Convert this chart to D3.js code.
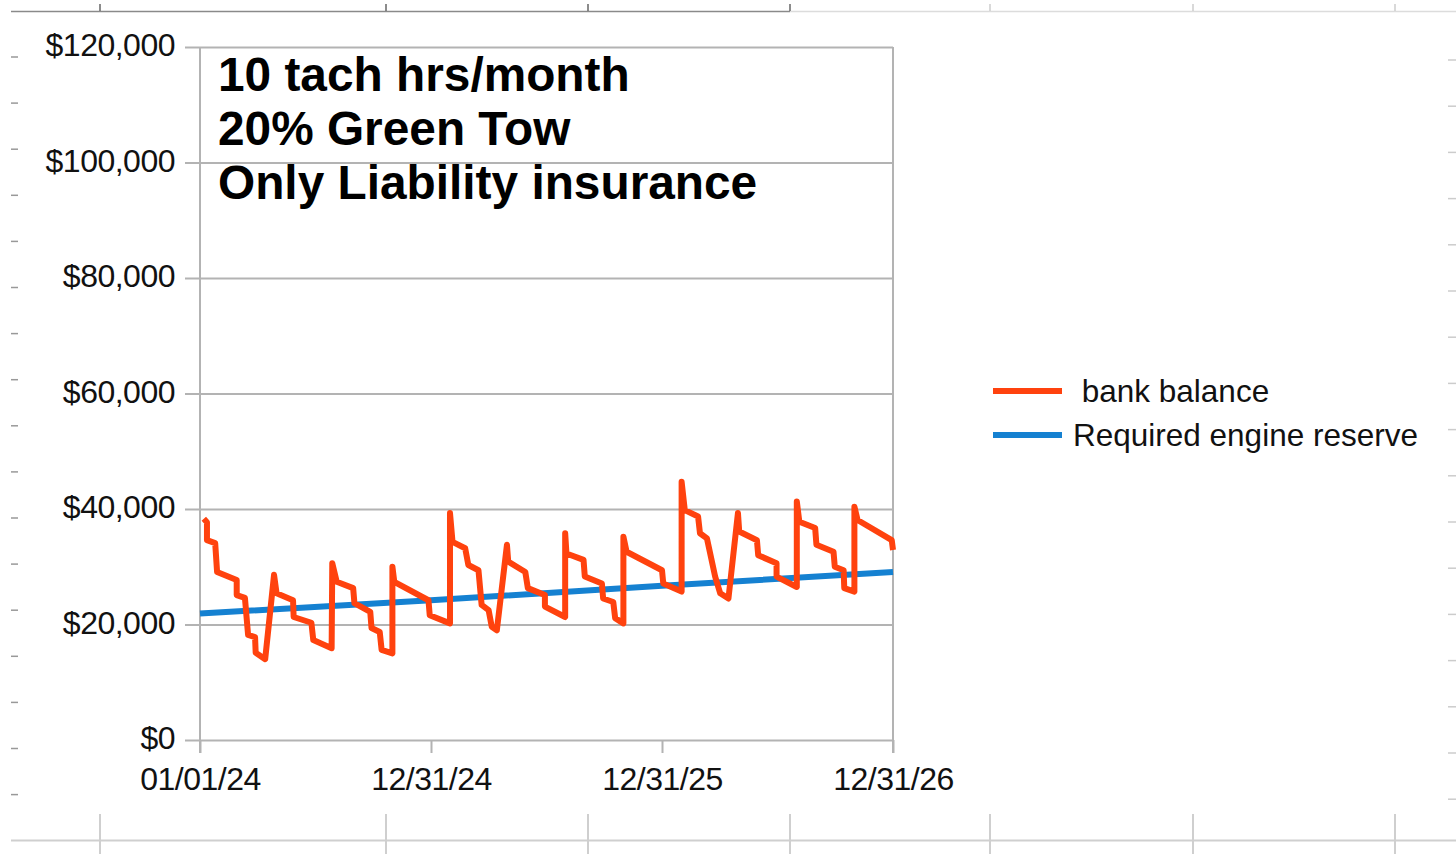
<!DOCTYPE html>
<html>
<head>
<meta charset="utf-8">
<script src="https://cdn.jsdelivr.net/npm/d3@7"></script>
<style>
  html, body { margin: 0; padding: 0; background: #fff; }
  svg { display: block; font-family: "Liberation Sans", Arial, sans-serif; }
</style>
</head>
<body>
<svg id="chart" width="1456" height="854"></svg>
<script>
// ---- data ----
const titleLines = ["10 tach hrs/month", "20% Green Tow", "Only Liability insurance"];
const seriesNames = [" bank balance", "Required engine reserve"];

const bankDates = [
  "2024-01-07","2024-01-12","2024-01-12","2024-01-25","2024-01-28","2024-02-28","2024-02-28","2024-03-12",
  "2024-03-17","2024-03-28","2024-03-29","2024-04-13","2024-04-27","2024-05-01","2024-05-27","2024-05-28",
  "2024-06-25","2024-06-28","2024-07-27","2024-07-28","2024-08-04","2024-08-30","2024-09-01","2024-09-26",
  "2024-09-28","2024-10-11","2024-10-14","2024-10-31","2024-10-31","2024-11-03","2024-12-27","2024-12-29",
  "2025-01-30","2025-01-30","2025-02-03","2025-02-23","2025-02-28","2025-03-16","2025-03-21","2025-04-01",
  "2025-04-06","2025-04-14","2025-04-30","2025-05-02","2025-05-29","2025-06-02","2025-06-29","2025-06-29",
  "2025-07-31","2025-07-31","2025-08-02","2025-08-29","2025-08-31","2025-09-27","2025-09-29","2025-10-15",
  "2025-10-18","2025-10-31","2025-10-31","2025-11-05","2025-12-31","2026-01-02","2026-01-31","2026-01-31",
  "2026-02-05","2026-02-26","2026-03-01","2026-03-12","2026-03-25","2026-04-02","2026-04-15","2026-04-30",
  "2026-05-02","2026-05-30","2026-06-01","2026-06-30","2026-06-30","2026-08-01","2026-08-01","2026-08-05",
  "2026-08-30","2026-09-01","2026-09-28","2026-09-30","2026-10-14","2026-10-15","2026-10-31","2026-10-31",
  "2026-11-05","2026-12-29","2026-12-31"
];
const bankValues = [
  38300,37700,34600,34100,29100,27700,25100,24600,
  18200,17800,15100,14000,28600,25400,24200,21300,
  20300,17300,15900,30600,27400,26300,23700,22200,
  19400,18700,15600,15000,30000,27400,24200,21600,
  20200,39300,34300,33200,30300,29400,23400,22500,
  19600,19000,33800,30900,29100,26300,25100,23100,
  21300,35800,32300,31200,28300,27100,24500,23900,
  21100,20200,35200,32600,29400,27100,25700,44700,
  39800,38700,35800,34900,28300,25400,24500,39300,
  36100,34600,32000,30600,28300,26500,41300,37800,
  36700,33800,32600,30000,29400,26300,25700,40400,
  38100,34600,32900
];

const reserveDates = ["2024-01-01","2024-12-31","2025-12-31","2026-12-31"];
const reserveValues = [21900, 24200, 26700, 29100];

const xTickDates = ["2024-01-01","2024-12-31","2025-12-31","2026-12-31"];
const yTickValues = [0, 20000, 40000, 60000, 80000, 100000, 120000];

// ---- setup ----
const parse = d3.utcParse("%Y-%m-%d");
const fmtDate = d3.utcFormat("%m/%d/%y");
const fmtMoney = v => "$" + d3.format(",")(v);

const svg = d3.select("#chart");
const W = 1456, H = 854;
const plot = { left: 200, right: 893, top: 47, bottom: 740 };

const x = d3.scaleUtc()
  .domain([parse(xTickDates[0]), parse(xTickDates[xTickDates.length - 1])])
  .range([plot.left, plot.right]);
const y = d3.scaleLinear().domain([0, 120000]).range([plot.bottom, plot.top]);

// ---- spreadsheet cell borders behind chart (decoration) ----
const deco = svg.append("g");
deco.append("line").attr("x1", 11).attr("x2", 790).attr("y1", 11.5).attr("y2", 11.5)
  .attr("stroke", "#8a8a8a").attr("stroke-width", 1.5);
deco.append("line").attr("x1", 790).attr("x2", W).attr("y1", 11.5).attr("y2", 11.5)
  .attr("stroke", "#dcdcdc").attr("stroke-width", 1.5);
deco.append("line").attr("x1", 11).attr("x2", W).attr("y1", 840.5).attr("y2", 840.5)
  .attr("stroke", "#cfcfcf").attr("stroke-width", 2);
[100, 386, 588, 790, 990, 1193, 1395].forEach((cx, i) => {
  deco.append("line").attr("x1", cx).attr("x2", cx).attr("y1", 4).attr("y2", 11)
    .attr("stroke", i < 4 ? "#666" : "#ccc").attr("stroke-width", 1.5);
  deco.append("line").attr("x1", cx).attr("x2", cx).attr("y1", 814).attr("y2", H)
    .attr("stroke", "#cfcfcf").attr("stroke-width", 2);
});
for (let k = 0; k < 17; k++) {
  const yy = 57 + 46.1 * k;
  deco.append("line").attr("x1", 11).attr("x2", 18).attr("y1", yy).attr("y2", yy)
    .attr("stroke", "#999").attr("stroke-width", 1.5);
  const yr = 60 + 46.2 * k;
  deco.append("line").attr("x1", 1448).attr("x2", W).attr("y1", yr).attr("y2", yr)
    .attr("stroke", "#ccc").attr("stroke-width", 1.5);
}

// ---- gridlines / axes ----
const gridColor = "#b3b3b3";
const yAxis = d3.axisLeft(y).tickValues(yTickValues).tickFormat(fmtMoney)
  .tickSize(plot.right - plot.left + 15).tickPadding(10);
const gy = svg.append("g").attr("transform", `translate(${plot.right},0)`).call(yAxis);
gy.select(".domain").remove();
gy.selectAll(".tick line").attr("stroke", gridColor).attr("stroke-width", 2);
gy.selectAll(".tick text").attr("font-size", 32).attr("letter-spacing", "-0.5px")
  .attr("fill", "#111").attr("dy", "0.28em").attr("font-family", "'Liberation Sans', Arial, sans-serif");

// right border of plot
svg.append("line").attr("x1", plot.right).attr("x2", plot.right)
  .attr("y1", plot.top).attr("y2", plot.bottom + 13).attr("stroke", gridColor).attr("stroke-width", 2);
// left axis line
svg.append("line").attr("x1", plot.left).attr("x2", plot.left)
  .attr("y1", plot.top).attr("y2", plot.bottom + 13).attr("stroke", gridColor).attr("stroke-width", 2);

const xAxis = d3.axisBottom(x).tickValues(xTickDates.map(parse)).tickFormat(fmtDate)
  .tickSize(13).tickPadding(14);
const gx = svg.append("g").attr("transform", `translate(0,${plot.bottom})`).call(xAxis);
gx.select(".domain").remove();
gx.selectAll(".tick line").attr("stroke", gridColor).attr("stroke-width", 2);
gx.selectAll(".tick text").attr("font-size", 32).attr("letter-spacing", "-0.5px")
  .attr("fill", "#111").attr("font-family", "'Liberation Sans', Arial, sans-serif");

// ---- series ----
const line = d3.line().x(d => x(d[0])).y(d => y(d[1]));
const reserve = reserveDates.map((d, i) => [parse(d), reserveValues[i]]);
const bank = bankDates.map((d, i) => [parse(d), bankValues[i]]);

const blue = "#1581d1", red = "#ff420e";
svg.append("path").datum(reserve).attr("d", line).attr("fill", "none")
  .attr("stroke", blue).attr("stroke-width", 6);
svg.append("path").datum(bank).attr("d", line).attr("fill", "none")
  .attr("stroke", red).attr("stroke-width", 6).attr("stroke-linejoin", "round");

// ---- title text ----
const tt = svg.append("g");
titleLines.forEach((t, i) => {
  tt.append("text").attr("x", 218).attr("y", 91 + i * 54)
    .attr("font-size", 47.8).attr("font-weight", "bold").attr("fill", "#000").text(t);
});

// ---- legend ----
const legend = svg.append("g");
[[red, 391, 1073], [blue, 435, 1073]].forEach((c, i) => {
  legend.append("line").attr("x1", 993).attr("x2", 1062).attr("y1", c[1]).attr("y2", c[1])
    .attr("stroke", c[0]).attr("stroke-width", 6);
  legend.append("text").attr("x", c[2]).attr("y", c[1] + 11).attr("font-size", 31.5)
    .attr("fill", "#111").attr("xml:space", "preserve").style("white-space", "pre")
    .text(seriesNames[i]);
});
</script>
</body>
</html>
